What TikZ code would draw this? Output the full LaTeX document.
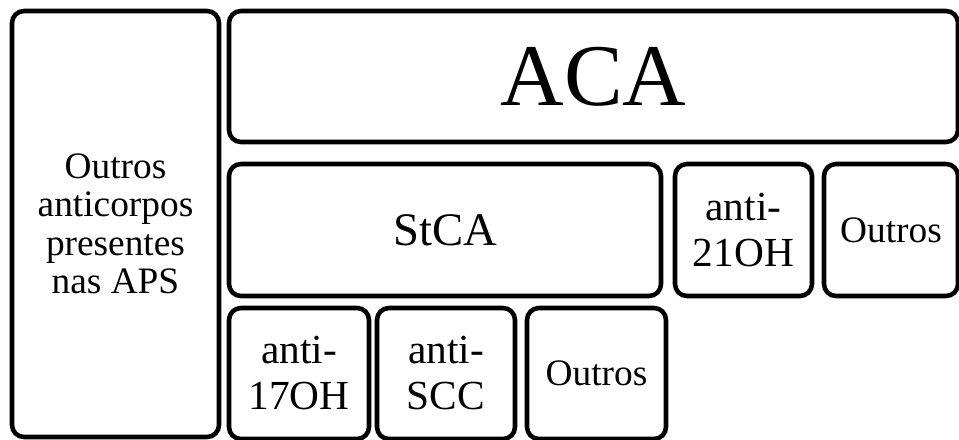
\documentclass[tikz,border=0pt]{standalone}
\usepackage{fontspec}
\setmainfont{Liberation Serif}
\usepackage{tikz}
\usetikzlibrary{positioning}

\begin{document}
\begin{tikzpicture}[
  node distance=9pt and 9pt,
  box/.style={draw, line width=3.4pt, rounded corners=9pt, align=center, outer sep=0pt, inner sep=2pt},
  big/.style={box, font=\fontsize{66}{72}\selectfont},
  mid/.style={box, font=\fontsize{35}{40}\selectfont},
  anti/.style={box, font=\fontsize{31}{34.5}\selectfont},
  small/.style={box, font=\fontsize{28}{28.9}\selectfont}
]
\useasboundingbox (0,0) rectangle (719.25pt,-329.25pt);
\node[small, anchor=north west, minimum width=155.25pt, minimum height=319.5pt] (oth) at (9pt,-8.25pt) {Outros\\anticorpos\\presentes\\nas APS};
\node[big, below right=0pt and 7.5pt of oth.north east, minimum width=546.75pt, minimum height=98.25pt] (aca) {ACA};
\node[mid, below right=16.5pt and 0pt of aca.south west, minimum width=324pt, minimum height=99pt] (stca) {StCA};
\node[anti, right=10.5pt of stca, minimum width=102.75pt, minimum height=99pt] (a21) {anti-\\21OH};
\node[small, right=of a21, minimum width=100.5pt, minimum height=99pt] (out1) {Outros};
\node[anti, below right=9pt and 0pt of stca.south west, minimum width=105pt, minimum height=98.25pt] (a17) {anti-\\17OH};
\node[anti, right=6pt of a17, minimum width=103.5pt, minimum height=98.25pt] (scc) {anti-\\SCC};
\node[small, right=of scc, minimum width=104.25pt, minimum height=98.25pt] (out2) {Outros};
\end{tikzpicture}
\end{document}
